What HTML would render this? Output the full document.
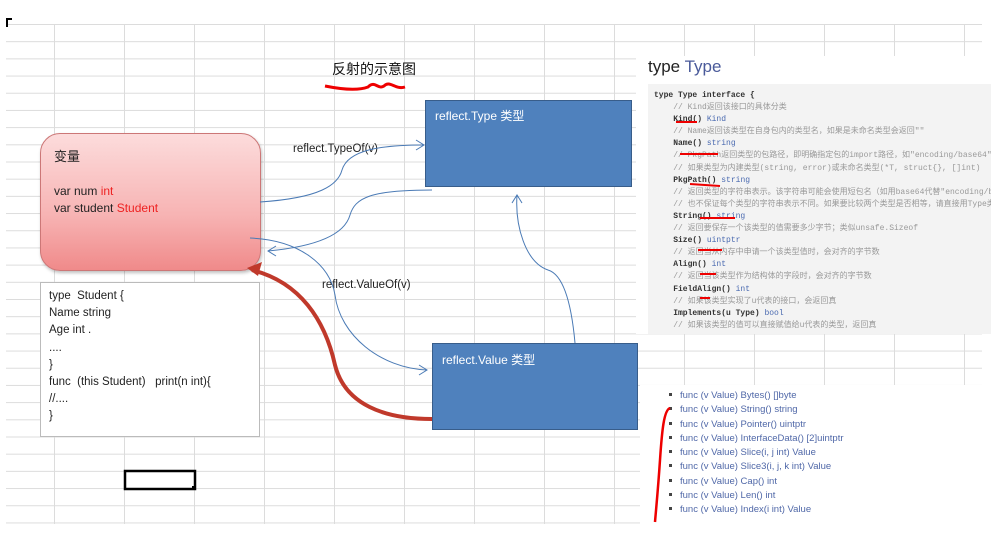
<!DOCTYPE html>
<html><head><meta charset="utf-8"><style>
body{margin:0;width:991px;height:538px;overflow:hidden;background:#fff;position:relative;font-family:"Liberation Sans","Noto Sans CJK SC",sans-serif}
.grid{position:absolute;left:6px;top:24px;width:976px;height:500px;
background-image:linear-gradient(#dcdcdc 1px,transparent 1px),linear-gradient(90deg,#dcdcdc 1px,transparent 1px);
background-size:70px 17.2px;background-position:-22px 0,48px 0}
.abs{position:absolute}
.code{font-family:"Liberation Mono","Noto Sans CJK SC",monospace;font-size:8px;line-height:12.1px;white-space:pre;color:#333}
.c{color:#999}.k{color:#333;font-weight:bold}.t{color:#4a6ab0}
.fl div{height:14.3px;font-size:9.5px;color:#5068a8;white-space:nowrap}
.fl div:before{content:"";display:inline-block;width:3px;height:3px;background:#444;margin:0 8px 2px 0;vertical-align:middle}
</style></head><body>
<div class="grid"></div>
<div class="abs" style="left:6px;top:18px;width:4px;height:7px;border-left:2px solid #000;border-top:2px solid #000"></div>

<div class="abs" style="left:332px;top:59px;font-size:14px;color:#111">反射的示意图</div>
<svg class="abs" style="left:0;top:0" width="991" height="538">
<path d="M325,86 C345,90 360,90 368,87 C375,80 378,90 384,86 C390,80 395,90 405,87" stroke="#e00" stroke-width="3" fill="none"/>
</svg>

<!-- right panel -->
<div class="abs" style="left:636px;top:56px;width:355px;height:278px;background:#fff"></div>
<div class="abs" style="left:648px;top:57px;font-size:17px;color:#222">type <span style="color:#4a5a9a">Type</span></div>
<div class="abs" style="left:648px;top:84px;width:343px;height:250px;background:#f3f3f3;overflow:hidden">
<div class="code" style="margin:6px 0 0 6px"><span class="k">type Type interface {</span>
    <span class="c">// Kind返回该接口的具体分类</span>
    <span class="k">Kind()</span> <span class="t">Kind</span>
    <span class="c">// Name返回该类型在自身包内的类型名，如果是未命名类型会返回""</span>
    <span class="k">Name()</span> <span class="t">string</span>
    <span class="c">// PkgPath返回类型的包路径，即明确指定包的import路径，如"encoding/base64"</span>
    <span class="c">// 如果类型为内建类型(string, error)或未命名类型(*T, struct{}, []int)</span>
    <span class="k">PkgPath()</span> <span class="t">string</span>
    <span class="c">// 返回类型的字符串表示。该字符串可能会使用短包名（如用base64代替"encoding/base64"）</span>
    <span class="c">// 也不保证每个类型的字符串表示不同。如果要比较两个类型是否相等，请直接用Type类型比较</span>
    <span class="k">String()</span> <span class="t">string</span>
    <span class="c">// 返回要保存一个该类型的值需要多少字节；类似unsafe.Sizeof</span>
    <span class="k">Size()</span> <span class="t">uintptr</span>
    <span class="c">// 返回当从内存中申请一个该类型值时，会对齐的字节数</span>
    <span class="k">Align()</span> <span class="t">int</span>
    <span class="c">// 返回当该类型作为结构体的字段时，会对齐的字节数</span>
    <span class="k">FieldAlign()</span> <span class="t">int</span>
    <span class="c">// 如果该类型实现了u代表的接口，会返回真</span>
    <span class="k">Implements(u Type)</span> <span class="t">bool</span>
    <span class="c">// 如果该类型的值可以直接赋值给u代表的类型，返回真</span></div>
</div>

<div class="abs" style="left:640px;top:385px;width:351px;height:153px;background:#fff"></div>
<div class="abs fl" style="left:669px;top:390px">
<div>func (v Value) Bytes() []byte</div>
<div>func (v Value) String() string</div>
<div>func (v Value) Pointer() uintptr</div>
<div>func (v Value) InterfaceData() [2]uintptr</div>
<div>func (v Value) Slice(i, j int) Value</div>
<div>func (v Value) Slice3(i, j, k int) Value</div>
<div>func (v Value) Cap() int</div>
<div>func (v Value) Len() int</div>
<div>func (v Value) Index(i int) Value</div>
</div>

<!-- left boxes -->
<div class="abs" style="left:40px;top:133px;width:219px;height:136px;border:1px solid #c77;border-radius:20px;background:linear-gradient(#fcdcdc,#f7b3b3 60%,#f08a8a);box-shadow:1px 2px 3px rgba(0,0,0,.25)"></div>
<div class="abs" style="left:54px;top:146px;font-size:13px;color:#222">变量</div>
<div class="abs" style="left:54px;top:183px;font-size:12px;line-height:17px;color:#222">var num <span style="color:#e22">int</span><br>var student <span style="color:#e22">Student</span></div>

<div class="abs" style="left:40px;top:282px;width:218px;height:153px;border:1px solid #bbb;background:#fff"></div>
<div class="abs" style="left:49px;top:288px;font-size:11.5px;line-height:17.2px;color:#222;white-space:pre">type  Student {
Name string
Age int .
....
}
func  (this Student)   print(n int){
//....
}</div>

<!-- blue boxes -->
<div class="abs" style="left:425px;top:100px;width:207px;height:87px;background:#4f81bd;border:1px solid #385d8a;box-sizing:border-box"></div>
<div class="abs" style="left:435px;top:107px;font-size:12px;color:#fff">reflect.Type 类型</div>
<div class="abs" style="left:432px;top:343px;width:206px;height:87px;background:#4f81bd;border:1px solid #385d8a;box-sizing:border-box"></div>
<div class="abs" style="left:442px;top:351px;font-size:12px;color:#fff">reflect.Value 类型</div>

<div class="abs" style="left:293px;top:143px;font-size:11.5px;color:#222">reflect.TypeOf(v)</div>
<div class="abs" style="left:322px;top:279px;font-size:11.5px;color:#222">reflect.ValueOf(v)</div>

<svg class="abs" style="left:0;top:0" width="991" height="538">
<g stroke="#4a7ab5" stroke-width="1" fill="none">
<path d="M260,202 C320,198 338,185 342,170 C348,150 380,145 424,145"/>
<path d="M416,140 L424,145 L416,150"/>
<path d="M432,190 C370,190 355,198 350,215 C343,240 300,248 268,251"/>
<path d="M276,246 L268,251 L276,256"/>
<path d="M250,238 C300,240 330,265 335,295 C340,335 380,368 427,370"/>
<path d="M419,365 L427,370 L419,375"/>
<path d="M575,343 C572,310 565,275 548,270 C525,262 515,225 517,195"/>
<path d="M512,203 L517,195 L522,203"/>
</g>
<path d="M432,419 C385,419 345,405 335,365 C325,320 300,282 252,270" stroke="#c0392b" stroke-width="4" fill="none"/>
<path d="M247,268 L262,262 L258,276 Z" fill="#c0392b"/>
<path d="M670,408 C664,410 662,430 660,460 C658,490 656,510 655,522" stroke="#e00" stroke-width="2.5" fill="none"/>
<g stroke="#e00" stroke-width="2" fill="none">
<path d="M676,122 L697,122"/><path d="M680,154 L718,154"/><path d="M690,184 L720,186"/>
<path d="M700,218 L735,218"/><path d="M698,250 L722,250"/><path d="M700,274 L716,274"/><path d="M700,298 L710,298"/>
</g>
<rect x="125" y="471" width="70" height="18" fill="none" stroke="#000" stroke-width="2.5"/>
<rect x="192" y="486" width="4" height="4" fill="#000"/>
</svg>
</body></html>
